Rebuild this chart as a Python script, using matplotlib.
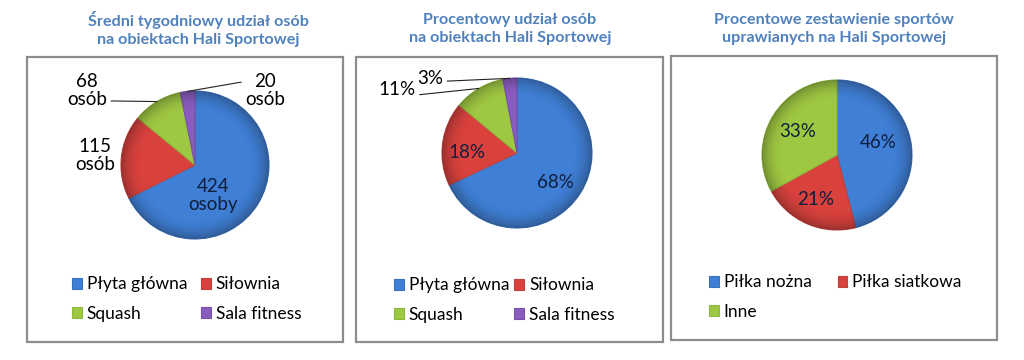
import matplotlib
matplotlib.use('Agg')
import matplotlib.pyplot as plt
import numpy as np
from matplotlib.patches import Rectangle, Circle

plt.rcParams['font.family'] = ['Lato', 'DejaVu Sans']

# --- data ---
titles = [
    'Średni tygodniowy udział osób\nna obiektach Hali Sportowej',
    'Procentowy udział osób\nna obiektach Hali Sportowej',
    'Procentowe zestawienie sportów\nuprawianych na Hali Sportowej',
]
facility_names = ['Płyta główna', 'Siłownia', 'Squash', 'Sala fitness']
facility_people = [424, 115, 68, 20]
facility_people_labels = ['424\nosoby', '115\nosób', '68\nosób', '20\nosób']
facility_pct = [68, 18, 11, 3]
sport_names = ['Piłka nożna', 'Piłka siatkowa', 'Inne']
sport_pct = [46, 21, 33]

COLORS = ['#3f7fd5', '#d9413d', '#9fc842', '#8a5cc0']
EDGES = ['#3a70bb', '#c0403c', '#8db63c', '#7750a8']
TITLE_C = '#4f81bd'
INNER_C = '#0f1f3d'

W, H = 1024, 360
fig = plt.figure(figsize=(W / 100, H / 100), dpi=100)
fig.patch.set_facecolor('white')


def fx(px):
    return px / W


def fy(py):
    return 1 - py / H


# panel layout (pixels): box, title centre, pie centre/radius, legend anchor
panels = [
    dict(box=(27, 57, 343, 342), tx=198, pie=(195, 165, 74), leg=(72, 299), cs=0.8),
    dict(box=(356, 57, 663, 342), tx=510, pie=(517, 153, 75), leg=(394, 300), cs=0.3),
    dict(box=(671, 56, 997, 340), tx=834, pie=(837, 155, 75), leg=(709, 297), cs=1.5),
]

# label placement in pie-data units (radius = 1); rel = where the leader leaves the text
label_pos = [
    [((0.24, -0.41), None), ((-1.35, 0.13), None),
     ((-1.46, 1.01), (1.0, 0.2)), ((0.95, 1.01), (0.0, 0.75))],
    [((0.51, -0.39), None), ((-0.67, 0.01), None),
     ((-1.60, 0.84), (1.0, 0.2)), ((-1.16, 0.99), (1.0, 0.35))],
    [((0.55, 0.16), None), ((-0.29, -0.60), None), ((-0.52, 0.31), None)],
]

datasets = [
    (facility_people, facility_people_labels, facility_names),
    (facility_pct, [f'{v}%' for v in facility_pct], facility_names),
    (sport_pct, [f'{v}%' for v in sport_pct], sport_names),
]

# soft darkening toward the rim, to mimic the bevelled Excel look
g = np.linspace(-1, 1, 301)
gx, gy = np.meshgrid(g, g)
rr = np.hypot(gx, gy)
shade = np.zeros((301, 301, 4))
shade[..., 3] = 0.30 * np.clip((rr - 0.72) / 0.28, 0, 1) ** 2
shade[..., :3] = 0.05

for p, title, (vals, labs, names), lpos in zip(panels, titles, datasets, label_pos):
    x0, y0, x1, y1 = p['box']
    fig.patches.append(Rectangle((fx(x0), fy(y1)), fx(x1 - x0), (y1 - y0) / H,
                                 transform=fig.transFigure, fill=False,
                                 edgecolor='#8c8c8c', linewidth=1.6))
    fig.text(fx(p['tx']), fy(29), title, ha='center', va='center',
             fontsize=11.6, fontweight='bold', color=TITLE_C, linespacing=1.3)

    cx, cy, r = p['pie']
    ax = fig.add_axes([fx(cx - r), fy(cy + r), 2 * r / W, 2 * r / H])
    n = len(vals)
    wedges, _ = ax.pie(vals, colors=COLORS[:n], startangle=90, counterclock=False,
                       radius=1, wedgeprops=dict(linewidth=0.8))
    for w, ec in zip(wedges, EDGES):
        w.set_edgecolor(ec)
    im = ax.imshow(shade, extent=(-1, 1, -1, 1), origin='lower', zorder=3)
    im.set_clip_path(Circle((0, 0), 1.0, transform=ax.transData))
    ax.set_xlim(-1, 1)
    ax.set_ylim(-1, 1)
    ax.set_aspect('equal')
    ax.axis('off')

    for w, lab, ((tx, ty), rel) in zip(wedges, labs, lpos):
        inside = np.hypot(tx, ty) < 1
        if rel is None:
            ax.text(tx, ty, lab, ha='center', va='center', fontsize=13.5,
                    color=INNER_C if inside else 'black', linespacing=1.1, zorder=5)
        else:
            mid = np.deg2rad((w.theta1 + w.theta2) / 2)
            ax.annotate(lab, xy=(np.cos(mid), np.sin(mid)), xytext=(tx, ty),
                        ha='center', va='center', fontsize=13.5, color='black',
                        linespacing=1.1, annotation_clip=False, zorder=5,
                        arrowprops=dict(arrowstyle='-', color='#222222', lw=0.8,
                                        shrinkA=1, shrinkB=0, relpos=rel))

    order = [0, 2, 1, 3] if n == 4 else [0, 2, 1]
    fig.legend([wedges[i] for i in order], [names[i] for i in order],
               loc='center left', bbox_to_anchor=(fx(p['leg'][0]), fy(p['leg'][1])),
               ncol=2, frameon=False, fontsize=12.5, handlelength=0.55,
               handleheight=0.55, handletextpad=0.3, columnspacing=p['cs'],
               labelspacing=0.75, borderpad=0, borderaxespad=0)

fig.savefig('out.png', dpi=100, facecolor='white')
